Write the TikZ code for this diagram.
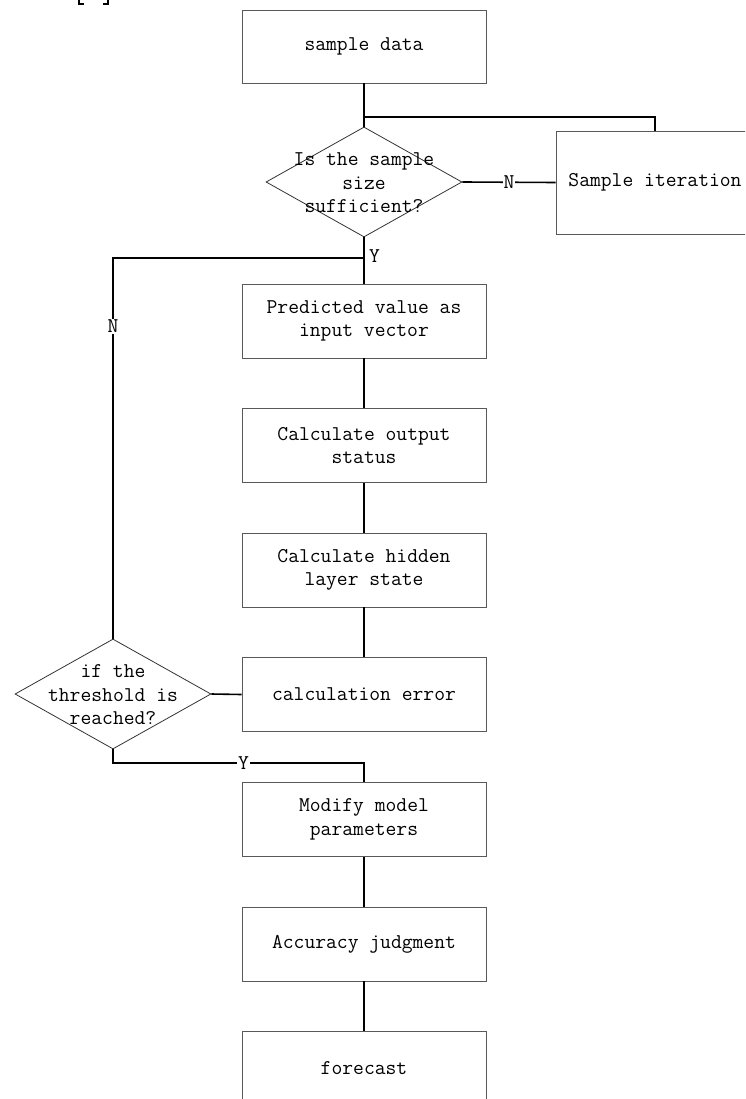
\documentclass[tikz,border=0pt]{standalone}
\usepackage{fontspec}
\usetikzlibrary{shapes.geometric}
\tikzset{
  txt/.style={font=\fontsize{21}{23.5}\selectfont\ttfamily, align=center, inner sep=0pt},
  stepbox/.style={draw=black!65, line width=0.9pt, minimum width=244pt, minimum height=74pt, inner sep=0pt, txt},
  dia/.style={draw=black!80, line width=0.8pt, shape=diamond, minimum width=196pt, minimum height=110pt, inner sep=0pt},
  conn/.style={draw=black, line width=1.6pt},
  lbl/.style={txt, fill=white, inner sep=1pt}
}
\begin{document}
\begin{tikzpicture}[x=1pt,y=-1pt]
\useasboundingbox (0,0) rectangle (745,1099);
\clip (0,0) rectangle (745,1099);
% clipped bracket fragments at top
\draw[line width=1.2pt] (79,0) -- (79,4) -- (84,4);
\draw[line width=1.2pt] (103,4) -- (108,4) -- (108,0);
% boxes
\node[stepbox, minimum height=73pt] (d) at (364,46.5) {sample data};
\node[dia] (q1) at (364,182) {};
\node[txt] at (364,183) {Is the sample\\size\\sufficient?};
\node[stepbox, minimum width=198pt, minimum height=103pt] (si) at (655,182.5) {Sample iteration};
\node[stepbox] (p1) at (364,321) {Predicted value as\\input vector};
\node[stepbox] (p2) at (364,445.5) {Calculate output\\status};
\node[stepbox] (p3) at (364,570) {Calculate hidden\\layer state};
\node[stepbox] (p4) at (364,694.5) {calculation error};
\node[dia] (q2) at (113,694) {};
\node[txt] at (113,695) {if the\\threshold is\\reached?};
\node[stepbox] (p5) at (364,819.5) {Modify model\\parameters};
\node[stepbox] (p6) at (364,944) {Accuracy judgment};
\node[stepbox] (p7) at (364,1068.5) {forecast};
% junctions
\coordinate (j1) at (364,117);
\coordinate (j2) at (364,258);
\coordinate (j3) at (113,258);
\coordinate (j4) at (113,763);
\coordinate (j5) at (364,763);
% connectors
\draw[conn] (d.south) -- (q1.north);
\draw[conn] (j1) -| (si.north);
\draw[conn] (q1.east) -- node[lbl] {N} (si.west);
\draw[conn] (q1.south) -- (p1.north);
\node[txt, anchor=west] at (369,256) {Y};
\draw[conn] (j2) -- (j3) -- node[lbl, pos=0.18] {N} (q2.north);
\draw[conn] (p1.south) -- (p2.north);
\draw[conn] (p2.south) -- (p3.north);
\draw[conn] (p3.south) -- (p4.north);
\draw[conn] (p4.west) -- (q2.east);
\draw[conn] (q2.south) -- (j4) -- node[lbl, pos=0.52] {Y} (j5) -- (p5.north);
\draw[conn] (p5.south) -- (p6.north);
\draw[conn] (p6.south) -- (p7.north);
\end{tikzpicture}
\end{document}
